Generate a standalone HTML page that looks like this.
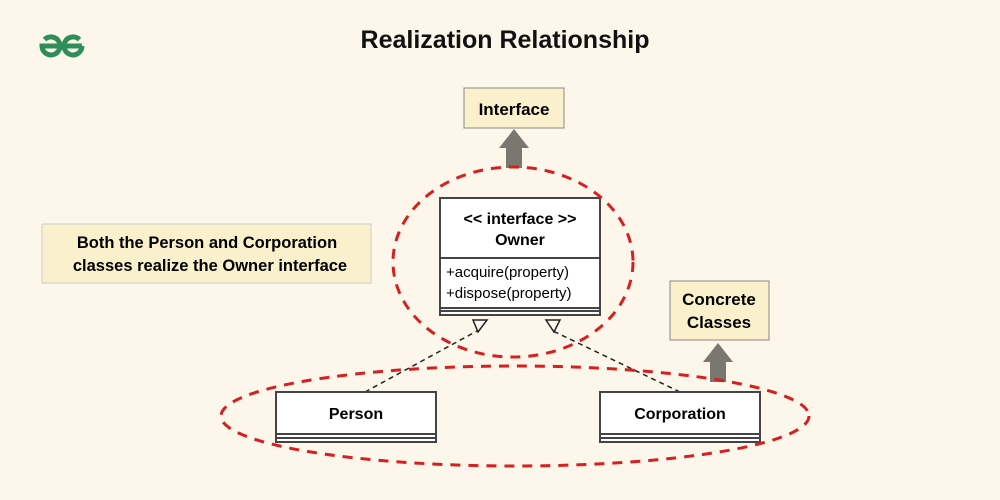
<!DOCTYPE html><html><head><style>body{margin:0;background:#fdf6ea}svg{display:block}text{font-family:"Liberation Sans",sans-serif}</style></head><body>
<svg width="1000" height="500" viewBox="0 0 1000 500">
<rect width="1000" height="500" fill="#fdf6ea"/>
<g fill="none" stroke="#2f8d5a" stroke-width="5">
<path d="M44.6 39.6 A9 9 0 1 1 42 46 H82"/>
<path d="M79.4 39.6 A9 9 0 1 0 82 46"/>
</g>
<text x="505" y="48" font-size="25" font-weight="bold" text-anchor="middle" fill="#111">Realization Relationship</text>
<rect x="464" y="88" width="100" height="40" fill="#fbf0cc" stroke="#888"/>
<text x="514" y="115" font-size="17" font-weight="bold" text-anchor="middle">Interface</text>
<rect x="506" y="146" width="16" height="22" fill="#7a7670"/><path d="M499 148 L529 148 L514 129 Z" fill="#7a7670"/>
<rect x="670" y="281" width="99" height="59" fill="#fbf0cc" stroke="#888"/>
<text x="719" y="305" font-size="17" font-weight="bold" text-anchor="middle">Concrete</text>
<text x="719" y="328" font-size="17" font-weight="bold" text-anchor="middle">Classes</text>
<rect x="710" y="360" width="16" height="22" fill="#7a7670"/><path d="M703 362 L733 362 L718 343 Z" fill="#7a7670"/>
<rect x="42" y="224" width="329" height="59" fill="#fbf0cc" stroke="#ccc"/>
<text x="207" y="248" font-size="16.5" font-weight="bold" text-anchor="middle">Both the Person and Corporation</text>
<text x="210" y="271" font-size="16.5" font-weight="bold" text-anchor="middle">classes realize the Owner interface</text>
<g stroke="#222" stroke-width="1.5" stroke-dasharray="5,4" fill="none">
<path d="M365 392 L477 331"/><path d="M680 392 L553 331"/></g>
<g fill="#fdf6ea" stroke="#222" stroke-width="1.5"><path d="M473 320 L487 320 L478 332 Z"/><path d="M546 320 L560 320 L554 332 Z"/></g>
<g stroke="#444" stroke-width="2" fill="#fff">
<rect x="440" y="198" width="160" height="117"/><line x1="440" y1="258" x2="600" y2="258"/>
<line x1="440" y1="308" x2="600" y2="308"/><line x1="440" y1="311" x2="600" y2="311"/>
<rect x="276" y="392" width="160" height="50"/><line x1="276" y1="434" x2="436" y2="434"/><line x1="276" y1="438" x2="436" y2="438"/>
<rect x="600" y="392" width="160" height="50"/><line x1="600" y1="434" x2="760" y2="434"/><line x1="600" y1="438" x2="760" y2="438"/>
</g>
<text x="520" y="224" font-size="16" font-weight="bold" text-anchor="middle">&lt;&lt; interface &gt;&gt;</text>
<text x="520" y="245" font-size="16" font-weight="bold" text-anchor="middle">Owner</text>
<text x="446" y="277" font-size="15">+acquire(property)</text>
<text x="446" y="298" font-size="15">+dispose(property)</text>
<text x="356" y="419" font-size="16" font-weight="bold" text-anchor="middle">Person</text>
<text x="680" y="419" font-size="16" font-weight="bold" text-anchor="middle">Corporation</text>
<g fill="none" stroke="#d42020" stroke-width="3" stroke-dasharray="10,8">
<ellipse cx="513" cy="262" rx="120" ry="95"/>
<ellipse cx="515" cy="416" rx="294" ry="50"/></g>
</svg></body></html>
